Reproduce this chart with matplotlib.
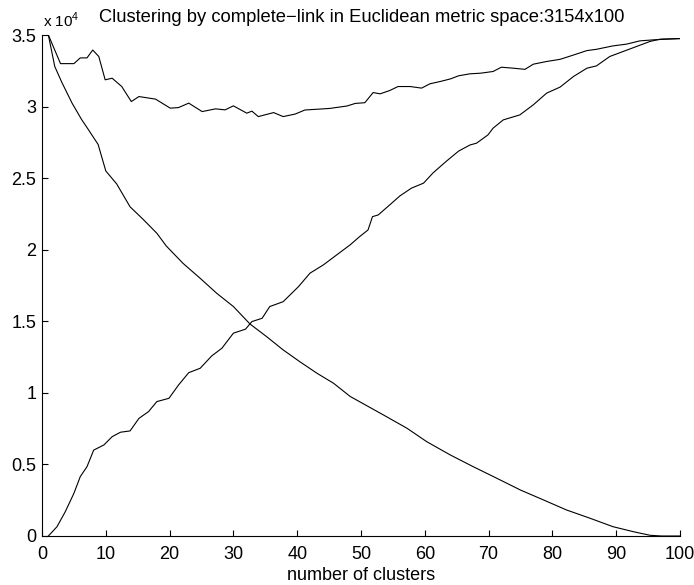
import matplotlib
matplotlib.use("Agg")
import matplotlib.pyplot as plt
from matplotlib.ticker import FixedLocator, FuncFormatter

plt.rcParams["font.family"] = ["Liberation Sans", "DejaVu Sans"]
plt.rcParams["mathtext.fontset"] = "custom"
plt.rcParams["mathtext.rm"] = "Liberation Sans"

# Total cost curve (upper)
total_x = [1, 2.9, 5.0, 6.0, 7.05, 7.95, 8.9, 9.9, 11.0, 12.5, 14.0, 15.2, 17.8,
           20.1, 21.4, 23.0, 25.1, 27.2, 28.7, 30.0, 32.1, 32.9, 33.9, 36.3, 37.8,
           39.7, 41.2, 45.1, 47.8, 49.1, 50.6, 51.9, 53.0, 54.5, 55.8, 57.7, 59.5,
           60.8, 62.4, 64.0, 65.3, 67.1, 68.7, 70.7, 72.0, 73.9, 75.7, 77.0, 79.1,
           81.2, 83.3, 85.4, 86.9, 89.5, 91.6, 93.7, 95.8, 97.9, 100]
total_y = [35000, 33000, 33000, 33400, 33400, 33950, 33500, 31870, 31980, 31400,
           30350, 30700, 30520, 29890, 29930, 30240, 29650, 29840, 29770, 30050,
           29540, 29680, 29300, 29580, 29300, 29480, 29760, 29870, 30040, 30220,
           30270, 30980, 30890, 31120, 31400, 31400, 31290, 31590, 31750, 31930,
           32150, 32290, 32330, 32450, 32750, 32680, 32600, 32960, 33150, 33300,
           33600, 33910, 34000, 34240, 34360, 34590, 34660, 34710, 34750]

# Between-cluster curve (rising)
between_x = [1, 2.35, 3.65, 5.0, 6.0, 7.05, 8.1, 9.7, 11.0, 12.3, 13.8, 15.2, 16.7,
             18.0, 19.9, 21.4, 23.0, 24.8, 26.6, 28.2, 30.0, 31.9, 32.9, 34.5, 35.7,
             37.8, 40.2, 42.0, 44.1, 46.2, 48.3, 49.8, 51.1, 51.8, 52.7, 54.5, 56.1,
             57.9, 59.8, 61.3, 63.4, 65.3, 67.1, 68.1, 69.9, 70.7, 72.3, 74.9, 77.0,
             79.1, 81.2, 83.3, 85.4, 86.9, 89.0, 91.1, 93.2, 95.3, 96.9, 100]
between_y = [0, 650, 1700, 2980, 4150, 4840, 6000, 6360, 6940, 7250, 7340, 8220,
             8690, 9390, 9620, 10550, 11410, 11720, 12580, 13120, 14170, 14450,
             14980, 15210, 16030, 16370, 17420, 18360, 18940, 19640, 20340, 20920,
             21380, 22310, 22430, 23130, 23760, 24300, 24650, 25370, 26190, 26890,
             27320, 27440, 28020, 28490, 29070, 29420, 30120, 30940, 31360, 32100,
             32680, 32840, 33500, 33850, 34200, 34550, 34710, 34750]

# Within-cluster curve (falling)
within_x = [1, 2.0, 3.1, 4.7, 6.2, 7.3, 8.8, 10.0, 11.7, 13.8, 15.9, 18.0, 19.5,
            22.1, 24.8, 27.4, 30.0, 32.6, 35.2, 37.8, 40.4, 43.1, 45.7, 48.3, 53.5,
            57.2, 60.3, 64.0, 67.6, 71.3, 75.0, 78.6, 82.2, 85.9, 89.5, 92.7, 95.3,
            97.1, 100]
within_y = [35000, 32800, 31700, 30250, 29100, 28370, 27350, 25500, 24600, 23000,
            22100, 21150, 20250, 19050, 18000, 16950, 16030, 14810, 13930, 13000,
            12180, 11370, 10670, 9750, 8460, 7530, 6590, 5660, 4840, 4030, 3210,
            2520, 1820, 1240, 650, 300, 50, 0, 0]

x_ticks = [0, 10, 20, 30, 40, 50, 60, 70, 80, 90, 100]
y_ticks = [0, 5000, 10000, 15000, 20000, 25000, 30000, 35000]

W, H = 694, 585
fig = plt.figure(figsize=(W / 100, H / 100), dpi=100)
ax = fig.add_axes([42 / W, (H - 536) / H, (680 - 42) / W, (536 - 35) / H])

for xs, ys in ((total_x, total_y), (between_x, between_y), (within_x, within_y)):
    ax.plot(xs, ys, color="black", linewidth=0.8)

ax.set_xlim(0, 100)
ax.set_ylim(0, 35000)
ax.xaxis.set_major_locator(FixedLocator(x_ticks))
ax.yaxis.set_major_locator(FixedLocator(y_ticks))
ax.yaxis.set_major_formatter(FuncFormatter(lambda v, p: f"{v / 1e4:g}"))

for s in ("top", "right"):
    ax.spines[s].set_visible(False)
for s in ("left", "bottom"):
    ax.spines[s].set_linewidth(0.8)
ax.tick_params(direction="in", length=4, width=0.8, labelsize=13)
ax.tick_params(axis="x", pad=7)
ax.tick_params(axis="y", pad=4)
ax.set_xlabel("number of clusters", fontsize=13, labelpad=3)

fig.text(362 / W, (H - 22) / H,
         "Clustering by complete\u2212link in Euclidean metric space:3154x100",
         ha="center", va="baseline", fontsize=13.2)
fig.text(43 / W, (H - 27) / H, r"x 10$^{\mathrm{4}}$", ha="left", va="baseline",
         fontsize=11)

fig.savefig("out.png", dpi=100)
